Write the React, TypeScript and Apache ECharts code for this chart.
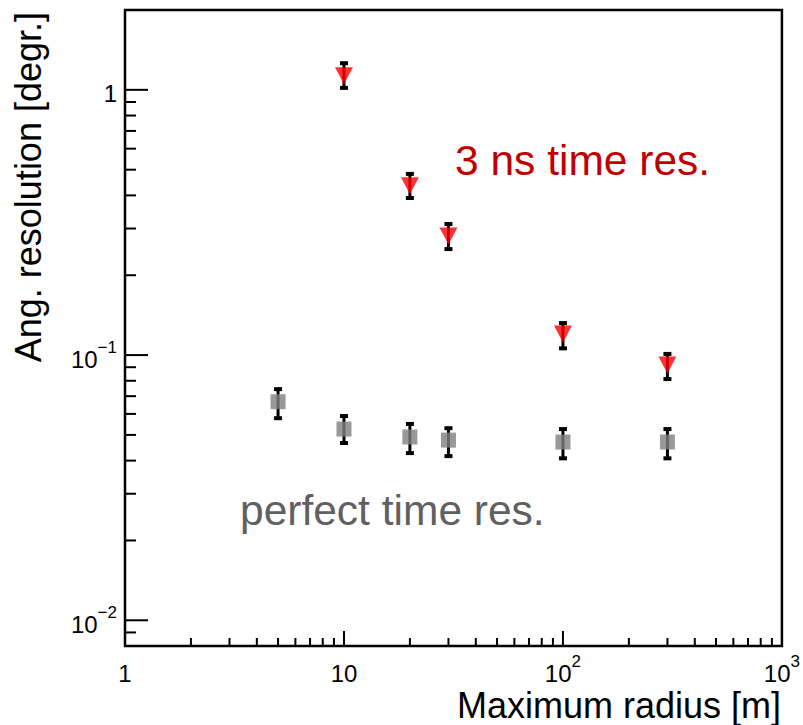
import React, { useEffect, useRef } from "react";
import * as echarts from "echarts";

// Angular resolution vs. maximum radius, two timing scenarios
const RED_X = [10, 20, 30, 100, 300];
const RED_Y = [1.13, 0.435, 0.281, 0.12, 0.0917];
const RED_LO = [1.017, 0.391, 0.251, 0.106, 0.0812];
const RED_HI = [1.26, 0.482, 0.312, 0.132, 0.101];

const GRAY_X = [5, 10, 20, 30, 100, 300];
const GRAY_Y = [0.0667, 0.0526, 0.0491, 0.0478, 0.047, 0.047];
const GRAY_LO = [0.0578, 0.0466, 0.0427, 0.0416, 0.0408, 0.0408];
const GRAY_HI = [0.0744, 0.0589, 0.055, 0.053, 0.0526, 0.0526];

const X_MIN = 1;
const X_MAX = 1000;
const Y_MIN = 0.008;
const Y_MAX = 2;

const X_MAJOR = [10, 100];
const X_MINOR = [2, 3, 4, 5, 6, 7, 8, 9, 20, 30, 40, 50, 60, 70, 80, 90, 200, 300, 400, 500, 600, 700, 800, 900];
const Y_MAJOR = [0.01, 0.1, 1];
const Y_MINOR = [0.009, 0.02, 0.03, 0.04, 0.05, 0.06, 0.07, 0.08, 0.09, 0.2, 0.3, 0.4, 0.5, 0.6, 0.7, 0.8, 0.9];

const X_LABEL_VALUES = [1, 10, 100, 1000];
const X_LABEL_TEXT = ["1", "10", "10^2", "10^3"];
const Y_LABEL_VALUES = [0.01, 0.1, 1];
const Y_LABEL_TEXT = ["10^\u22122", "10^\u22121", "1"];

const FONT = "'Liberation Sans', Arial, Helvetica, sans-serif";

function labelFormatter(values: number[], texts: string[]) {
  return (v: number) => {
    const i = values.findIndex((t) => Math.abs(Math.log10(t) - Math.log10(v)) < 1e-6);
    if (i < 0) return "";
    const [b, s] = texts[i].split("^");
    return s ? `{b|${b}}{s|${s}}` : `{b|${b}}`;
  };
}

const RICH = {
  b: { fontSize: 24, lineHeight: 32, fontFamily: FONT, color: "#000", verticalAlign: "bottom" },
  s: { fontSize: 17, lineHeight: 17, fontFamily: FONT, color: "#000", verticalAlign: "top" },
};

function tickSeries(data: number[][], dx: number, dy: number) {
  return {
    type: "custom",
    coordinateSystem: "cartesian2d",
    silent: true,
    clip: false,
    z: 5,
    data,
    renderItem: (_p: any, api: any) => {
      const p = api.coord([api.value(0), api.value(1)]);
      return {
        type: "line",
        shape: { x1: p[0], y1: p[1], x2: p[0] + dx, y2: p[1] + dy },
        style: { stroke: "#000", lineWidth: 2 },
      };
    },
  };
}

function errorSeries(xs: number[], lo: number[], hi: number[]) {
  return {
    type: "custom",
    coordinateSystem: "cartesian2d",
    silent: true,
    z: 6,
    encode: { x: 0, y: [1, 2] },
    data: xs.map((x, i) => [x, lo[i], hi[i]]),
    renderItem: (_p: any, api: any) => {
      const a = api.coord([api.value(0), api.value(1)]);
      const b = api.coord([api.value(0), api.value(2)]);
      const st = { fill: "#000" };
      return {
        type: "group",
        children: [
          { type: "line", shape: { x1: a[0], y1: a[1], x2: b[0], y2: b[1] }, style: { stroke: "#000", lineWidth: 3 } },
          { type: "rect", shape: { x: a[0] - 4, y: a[1] - 2, width: 8, height: 4 }, style: st },
          { type: "rect", shape: { x: b[0] - 4, y: b[1] - 2, width: 8, height: 4 }, style: st },
        ],
      };
    },
  };
}

export default function App() {
  const ref = useRef<HTMLDivElement>(null);

  useEffect(() => {
    if (!ref.current) return;
    const chart = echarts.init(ref.current, undefined, { renderer: "svg" });
    chart.setOption({
      animation: false,
      backgroundColor: "#fff",
      grid: {
        left: 125,
        right: 20,
        top: 10,
        bottom: 79,
        show: true,
        borderColor: "#000",
        borderWidth: 2.5,
        backgroundColor: "transparent",
      },
      xAxis: {
        type: "log",
        logBase: 10,
        min: X_MIN,
        max: X_MAX,
        axisLine: { show: false },
        axisTick: { show: false },
        splitLine: { show: false },
        minorTick: { show: false },
        axisLabel: {
          interval: 0,
          margin: 7,
          fontSize: 24,
          fontFamily: FONT,
          color: "#000",
          showMinLabel: true,
          showMaxLabel: true,
          formatter: labelFormatter(X_LABEL_VALUES, X_LABEL_TEXT),
          rich: RICH,
        },
      },
      yAxis: {
        type: "log",
        logBase: 10,
        min: Y_MIN,
        max: Y_MAX,
        axisLine: { show: false },
        axisTick: { show: false },
        splitLine: { show: false },
        minorTick: { show: false },
        axisLabel: {
          interval: 0,
          margin: 8,
          fontSize: 24,
          fontFamily: FONT,
          color: "#000",
          showMinLabel: true,
          showMaxLabel: true,
          formatter: labelFormatter(Y_LABEL_VALUES, Y_LABEL_TEXT),
          rich: RICH,
        },
      },
      graphic: [
        {
          type: "text",
          x: 455,
          y: 160,
          style: {
            text: "3 ns time res.",
            fill: "#c00000",
            fontSize: 42.5,
            fontFamily: FONT,
            textAlign: "left",
            textVerticalAlign: "middle",
          },
        },
        {
          type: "text",
          x: 240,
          y: 510,
          style: {
            text: "perfect time res.",
            fill: "#606060",
            fontSize: 42.5,
            fontFamily: FONT,
            textAlign: "left",
            textVerticalAlign: "middle",
          },
        },
        {
          type: "text",
          x: 781,
          y: 705,
          style: {
            text: "Maximum radius [m]",
            fill: "#000",
            fontSize: 36,
            fontFamily: FONT,
            textAlign: "right",
            textVerticalAlign: "middle",
          },
        },
        {
          type: "text",
          x: 28,
          y: 12,
          rotation: Math.PI / 2,
          style: {
            text: "Ang. resolution [degr.]",
            fill: "#000",
            fontSize: 36,
            fontFamily: FONT,
            textAlign: "right",
            textVerticalAlign: "middle",
          },
        },
      ],
      series: [
        tickSeries(X_MAJOR.map((v) => [v, Y_MIN]), 0, -15),
        tickSeries(X_MINOR.map((v) => [v, Y_MIN]), 0, -8),
        tickSeries(Y_MAJOR.map((v) => [X_MIN, v]), 23, 0),
        tickSeries(Y_MINOR.map((v) => [X_MIN, v]), 11, 0),
        errorSeries(GRAY_X, GRAY_LO, GRAY_HI),
        errorSeries(RED_X, RED_LO, RED_HI),
        {
          type: "scatter",
          z: 8,
          symbol: "rect",
          symbolSize: [15, 15],
          itemStyle: { color: "#808080" },
          data: GRAY_X.map((x, i) => [x, GRAY_Y[i]]),
        },
        {
          type: "scatter",
          z: 8,
          symbol: "triangle",
          symbolRotate: 180,
          symbolSize: [18, 17],
          itemStyle: { color: "#ff0000" },
          data: RED_X.map((x, i) => [x, RED_Y[i]]),
        },
      ],
    });
    return () => chart.dispose();
  }, []);

  return (
    <div
      ref={ref}
      style={{ position: "absolute", left: 0, top: 0, width: 803, height: 725, background: "#fff" }}
    />
  );
}
